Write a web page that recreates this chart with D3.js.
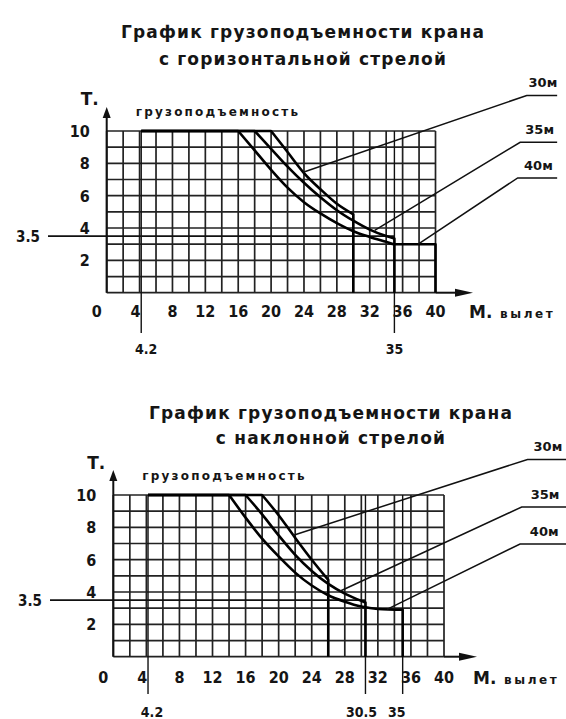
<!DOCTYPE html>
<html><head><meta charset="utf-8">
<script src="https://cdn.jsdelivr.net/npm/d3@7"></script>
<style>
body{margin:0;background:#fff}
svg{display:block;background:#fff}
text{font-family:"DejaVu Sans",sans-serif;font-weight:bold;fill:#151515}
.title{font-size:17px;letter-spacing:1.2px}
.tick{font-family:"DejaVu Sans Condensed","DejaVu Sans",sans-serif;font-size:16px}
.small{font-size:12px;letter-spacing:2.2px}
.boom{font-size:13px}
</style>
</head><body>
<svg id="c" width="566" height="719"></svg>
<script>
// ---------- shared values ----------
const xTickValues = [0, 4, 8, 12, 16, 20, 24, 28, 32, 36, 40];
const yTickValues = [2, 4, 6, 8, 10];
const boomLabels = ["30м", "35м", "40м"];
const capacityLabel = "грузоподъемность";
const axisYLabel = "Т.";
const axisXLabel = "М.";
const axisXWord = "вылет";
const refLoad = 3.5;
const minReach = 4.2;
const maxLoad = 10;

// ---------- top: horizontal jib ----------
const topTitle = ["График грузоподъемности крана", "с горизонтальной стрелой"];
const top30 = [[20,10],[22,8.7],[24,7.4],[26,6.4],[28,5.5],[30,4.85]];
const top35 = [[18,10],[20,8.9],[22,7.8],[24,6.8],[26,5.9],[28,5.1],[30,4.45],[32,3.9],[34,3.5],[35,3.35]];
const top40 = [[16,10],[18,8.8],[20,7.6],[22,6.5],[24,5.6],[26,4.9],[28,4.3],[30,3.8],[32,3.45],[34,3.15],[35,3.0],[40,3.0]];
const topMarks = [4.2, 35];
const topLeaderTargets = [[23.9,7.45],[32.6,3.85],[37.9,3.0]];
const topLeaderElbows = [[51.1,12.2],[50.3,9.3],[50.0,7.1]];

// ---------- bottom: luffing jib ----------
const botTitle = ["График грузоподъемности крана", "с наклонной стрелой"];
const bot30 = [[18,10],[20,8.75],[22,7.35],[24,6.0],[26,4.75]];
const bot35 = [[16,10],[18,8.8],[20,7.5],[22,6.3],[24,5.3],[26,4.5],[28,3.9],[30,3.45],[30.5,3.35]];
const bot40 = [[14,10],[16,8.6],[18,7.3],[20,6.2],[22,5.2],[24,4.4],[26,3.8],[28,3.4],[30,3.1],[32,2.95],[35,2.9]];
const botMarks = [4.2, 30.5, 35];
const botLeaderTargets = [[21.7,7.5],[27.4,4.05],[33.1,2.93]];
const botLeaderElbows = [[50.1,12.2],[49.4,9.26],[49.2,6.97]];
const leaderEndX = 54.8;

const svg = d3.select("#c");

function panel(cfg) {
  const g = svg.append("g");
  const x = d3.scaleLinear().domain([0, 40]).range([cfg.left, cfg.right]);
  const y = d3.scaleLinear().domain([0, 10]).range([cfg.bottom, cfg.top]);

  // titles
  cfg.title.forEach((t, i) => {
    g.append("text").attr("class", "title").attr("x", cfg.titleX).attr("y", cfg.titleY[i])
      .attr("text-anchor", "middle").text(t);
  });

  // grid
  const grid = g.append("g").attr("stroke", "#222").attr("stroke-width", 1.7);
  grid.selectAll("line.v").data(d3.range(0, 41, 2)).join("line").attr("class", "v")
    .attr("x1", d => x(d)).attr("x2", d => x(d)).attr("y1", y(0)).attr("y2", y(10));
  grid.selectAll("line.h").data(d3.range(0, 11, 1)).join("line").attr("class", "h")
    .attr("x1", x(0)).attr("x2", x(40)).attr("y1", d => y(d)).attr("y2", d => y(d));

  // reference marks (verticals)
  g.selectAll("line.mark").data(cfg.marks).join("line").attr("class", "mark")
    .attr("x1", d => x(d)).attr("x2", d => x(d)).attr("y1", y(10)).attr("y2", cfg.markBottom)
    .attr("stroke", "#111").attr("stroke-width", 1.4);
  g.selectAll("text.mark").data(cfg.marks).join("text").attr("class", "tick mark")
    .attr("x", (d, i) => x(d) + cfg.markDx[i]).attr("y", cfg.markLabelY).attr("text-anchor", "middle")
    .style("font-size", "14px").text(d => String(d));

  // 3.5 reference line
  g.append("line").attr("x1", cfg.refLineStart).attr("x2", x(cfg.refEnd))
    .attr("y1", y(refLoad)).attr("y2", y(refLoad)).attr("stroke", "#111").attr("stroke-width", 1.6);
  g.append("text").attr("class", "tick").attr("x", cfg.refLineStart - 8).attr("y", y(refLoad) + 6)
    .attr("text-anchor", "end").style("font-size", "15px").text(String(refLoad));

  // axes
  g.append("line").attr("x1", x(0)).attr("x2", x(0)).attr("y1", y(0)).attr("y2", cfg.yArrowTip + 6)
    .attr("stroke", "#111").attr("stroke-width", 2);
  g.append("path").attr("d", `M${x(0)},${cfg.yArrowTip}L${x(0)-4},${cfg.yArrowTip+11}L${x(0)+4},${cfg.yArrowTip+11}Z`)
    .attr("fill", "#111");
  g.append("line").attr("x1", x(40)).attr("x2", cfg.xArrowTip - 8).attr("y1", y(0)).attr("y2", y(0))
    .attr("stroke", "#111").attr("stroke-width", 2);
  g.append("path").attr("d", `M${cfg.xArrowTip},${y(0)}L${cfg.xArrowTip-18},${y(0)-4}L${cfg.xArrowTip-18},${y(0)+4}Z`)
    .attr("fill", "#111");

  // tick labels
  g.selectAll("text.xt").data(xTickValues).join("text").attr("class", "tick xt")
    .attr("x", d => x(d) + (d === 0 ? -10 : d === 4 ? -4 : 0)).attr("y", y(0) + cfg.xTickDy)
    .attr("text-anchor", "middle").text(d => d);
  g.selectAll("text.yt").data(yTickValues).join("text").attr("class", "tick yt")
    .attr("x", x(0) - 17).attr("y", d => y(d) + 6).attr("text-anchor", "end").text(d => d);

  g.append("text").attr("x", x(0) - 8).attr("y", y(10) - 26).attr("text-anchor", "end")
    .style("font-size", "17px").text(axisYLabel);
  g.append("text").attr("class", "small").attr("x", x(0) + 29).attr("y", y(10) - 15).text(capacityLabel);
  g.append("text").attr("x", cfg.xArrowTip - 4).attr("y", y(0) + cfg.xTickDy + 1)
    .style("font-size", "17px").text(axisXLabel);
  g.append("text").attr("x", cfg.xArrowTip + 27).attr("y", y(0) + cfg.xTickDy + 1)
    .style("font-size", "12px").style("letter-spacing", "2.6px").text(axisXWord);

  // load curves
  const lineGen = d3.line().x(d => x(d[0])).y(d => y(d[1])).curve(d3.curveMonotoneX);
  g.selectAll("path.curve").data(cfg.series).join("path").attr("class", "curve")
    .attr("d", pts => {
      const last = pts[pts.length - 1];
      return `M${x(minReach)},${y(maxLoad)}L` + lineGen(pts).slice(1) + `L${x(last[0])},${y(0)}`;
    })
    .attr("fill", "none").attr("stroke", "#000").attr("stroke-width", 2.6).attr("stroke-linejoin", "round");

  // leaders and boom labels
  cfg.targets.forEach((t, i) => {
    const e = cfg.elbows[i];
    g.append("path").attr("d", `M${x(t[0])},${y(t[1])}L${x(e[0])},${y(e[1])}L${x(leaderEndX)},${y(e[1])}`)
      .attr("fill", "none").attr("stroke", "#111").attr("stroke-width", 1.5);
    g.append("text").attr("class", "boom").attr("x", (x(e[0]) + x(leaderEndX)) / 2 + 1)
      .attr("y", y(e[1]) - 8).attr("text-anchor", "middle").text(boomLabels[i]);
  });
}

panel({
  title: topTitle, titleX: 303, titleY: [38, 65],
  left: 106.7, right: 435.5, top: 131, bottom: 292.7,
  series: [top30, top35, top40], marks: topMarks, markDx: [5, 0], markBottom: 333, markLabelY: 354,
  refLineStart: 48, refEnd: 35, yArrowTip: 107, xArrowTip: 473, xTickDy: 24,
  targets: topLeaderTargets, elbows: topLeaderElbows
});
panel({
  title: botTitle, titleX: 331, titleY: [419, 444],
  left: 113.3, right: 444, top: 495, bottom: 656.7,
  series: [bot30, bot35, bot40], marks: botMarks, markDx: [4, -4, -6], markBottom: 694, markLabelY: 717,
  refLineStart: 50, refEnd: 30.5, yArrowTip: 470, xArrowTip: 477, xTickDy: 26,
  targets: botLeaderTargets, elbows: botLeaderElbows
});
</script>
</body></html>
